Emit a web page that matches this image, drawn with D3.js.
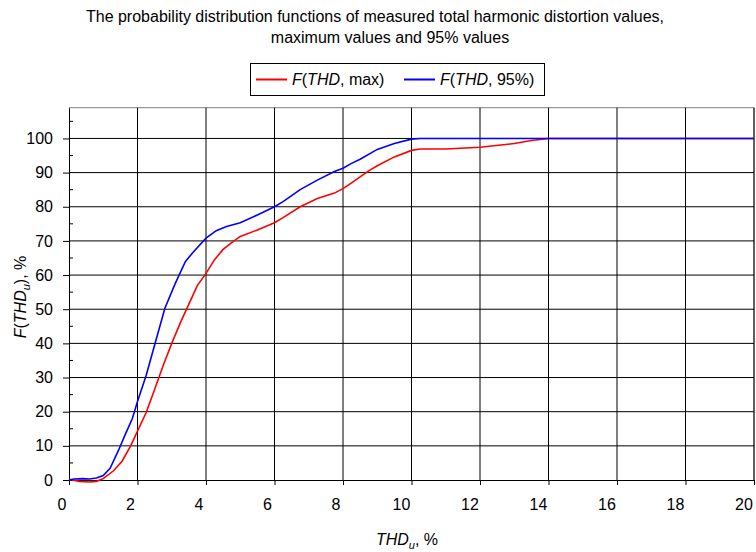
<!DOCTYPE html>
<html>
<head>
<meta charset="utf-8">
<script src="https://cdn.jsdelivr.net/npm/d3@7/dist/d3.min.js"></script>
<style>
  html, body { margin: 0; padding: 0; background: #fff; }
  svg { display: block; font-family: Arial, "Liberation Sans", sans-serif; }
</style>
</head>
<body>
<svg id="chart" width="756" height="552"></svg>
<script>
// ---- data ----
const titleLines = ["The probability distribution functions of measured total harmonic distortion values,",
                    "maximum values and 95% values"];
const xTicks = [0, 2, 4, 6, 8, 10, 12, 14, 16, 18, 20];
const yTicks = [0, 10, 20, 30, 40, 50, 60, 70, 80, 90, 100];
const yMinorTicks = [5, 15, 25, 35, 45, 55, 65, 75, 85, 95, 105];

const maxX = [0, 0.3, 0.6, 0.8, 1.0, 1.3, 1.55, 1.8, 2.0, 2.25, 2.5, 2.75, 3.0, 3.25, 3.5, 3.75, 4.0, 4.25, 4.5, 4.75, 5.0, 5.5, 6.0, 6.25, 6.75, 7.25, 7.75, 8.0, 8.25, 8.75, 9.0, 9.5, 10.0, 10.25, 11.0, 12.0, 13.0, 13.5, 14.0, 15, 16, 17, 18, 19, 20];
const maxY = [0.2, -0.4, -0.6, -0.4, 0.4, 2.7, 5.5, 10, 14.3, 19.7, 26.5, 33.5, 40, 46, 51.5, 57, 60.5, 64.5, 67.5, 69.5, 71.3, 73.2, 75.3, 76.8, 80, 82.4, 84, 85.3, 87, 90.5, 92, 94.6, 96.5, 96.9, 96.9, 97.4, 98.5, 99.4, 100, 100, 100, 100, 100, 100, 100];

const p95X = [0, 0.15, 0.4, 0.6, 0.8, 1.0, 1.2, 1.45, 1.65, 1.85, 2.0, 2.25, 2.5, 2.8, 3.1, 3.4, 3.65, 4.0, 4.3, 4.6, 5.0, 5.5, 6.0, 6.25, 6.75, 7.25, 7.75, 8.0, 8.25, 8.5, 9.0, 9.5, 10.0, 10.25, 11, 12, 13, 14, 15, 16, 17, 18, 19, 20];
const p95Y = [0, 0.3, 0.4, 0.3, 0.6, 1.3, 3.4, 8.8, 13.5, 18, 23, 30.5, 39.5, 50.3, 57.5, 64, 67, 70.8, 73, 74.2, 75.3, 77.6, 80, 81.5, 85, 87.8, 90.3, 91.3, 92.7, 93.9, 96.8, 98.5, 99.8, 100, 100, 100, 100, 100, 100, 100, 100, 100, 100, 100];

const seriesNames = ["max", "95%"];
const seriesColors = ["#ff0000", "#0000ff"];

// ---- layout ----
const svg = d3.select("#chart");
const pLeft = 69, pRight = 754, pTop = 107.7, pBottom = 480;
const x = d3.scaleLinear().domain([0, 20]).range([pLeft, pRight]);
const y = d3.scaleLinear().domain([0, 109]).range([pBottom, pTop]);

// title
svg.append("text").attr("x", 375).attr("y", 22).attr("text-anchor", "middle")
  .attr("font-size", 16).text(titleLines[0]);
svg.append("text").attr("x", 390).attr("y", 43).attr("text-anchor", "middle")
  .attr("font-size", 16).text(titleLines[1]);

// frame (top/right, grey)
svg.append("path").attr("d", `M${pLeft},${pTop}H${pRight}V${pBottom}`)
  .attr("fill", "none").attr("stroke", "#808080").attr("stroke-width", 1);

// grid
const g = svg.append("g");
g.selectAll("line.vg").data(xTicks.slice(1)).join("line")
  .attr("x1", d => x(d)).attr("x2", d => x(d)).attr("y1", pTop).attr("y2", pBottom)
  .attr("stroke", "#000").attr("stroke-width", 1);
g.selectAll("line.hg").data(yTicks.slice(1)).join("line")
  .attr("x1", pLeft).attr("x2", pRight).attr("y1", d => y(d)).attr("y2", d => y(d))
  .attr("stroke", "#000").attr("stroke-width", 1);

// x axis
const xAxis = d3.axisBottom(x).tickValues(xTicks).tickSize(5).tickSizeOuter(0).tickFormat(d3.format("d"));
const xg = svg.append("g").attr("transform", `translate(0,${pBottom})`).call(xAxis);
xg.select(".domain").attr("stroke", "#000");
xg.selectAll(".tick line").attr("stroke", "#000");
xg.selectAll(".tick text").attr("font-size", 16).attr("font-family", "Arial, 'Liberation Sans', sans-serif")
  .attr("fill", "#000").attr("y", 19).attr("dy", "0.71em")
  .attr("dx", d => String(d).length > 1 ? -10.5 : -7.5);

// y axis
const yAxis = d3.axisLeft(y).tickValues(yTicks).tickSize(6).tickSizeOuter(0).tickPadding(10).tickFormat(d3.format("d"));
const yg = svg.append("g").attr("transform", `translate(${pLeft},0)`).call(yAxis);
yg.select(".domain").attr("stroke", "#000");
yg.selectAll(".tick line").attr("stroke", "#000");
yg.selectAll(".tick text").attr("font-size", 16).attr("font-family", "Arial, 'Liberation Sans', sans-serif").attr("fill", "#000");
// minor ticks inside
svg.append("g").selectAll("line").data(yMinorTicks).join("line")
  .attr("x1", pLeft).attr("x2", pLeft + 4).attr("y1", d => y(d)).attr("y2", d => y(d))
  .attr("stroke", "#000");

// curves
const line = d3.line().x(d => x(d[0])).y(d => y(d[1]));
const series = [d3.zip(maxX, maxY), d3.zip(p95X, p95Y)];
svg.append("g").selectAll("path").data(series).join("path")
  .attr("d", line).attr("fill", "none")
  .attr("stroke", (d, i) => seriesColors[i]).attr("stroke-width", 1.6);

// legend
const lg = svg.append("g");
lg.append("rect").attr("x", 250.5).attr("y", 63.5).attr("width", 294).attr("height", 32)
  .attr("fill", "#fff").attr("stroke", "#000");
const legX = [256, 404];
seriesNames.forEach((nm, i) => {
  lg.append("line").attr("x1", legX[i]).attr("x2", legX[i] + 31).attr("y1", 79.5).attr("y2", 79.5)
    .attr("stroke", seriesColors[i]).attr("stroke-width", 2);
  const t = lg.append("text").attr("x", legX[i] + 36).attr("y", 85).attr("font-size", 16);
  t.append("tspan").attr("font-style", "italic").text("F");
  t.append("tspan").text("(");
  t.append("tspan").attr("font-style", "italic").text("THD");
  t.append("tspan").text(", " + nm + ")");
});

// axis titles
const xt = svg.append("text").attr("x", 407).attr("y", 545).attr("text-anchor", "middle").attr("font-size", 16);
xt.append("tspan").attr("font-style", "italic").text("THD");
xt.append("tspan").attr("font-style", "italic").attr("font-size", 11).attr("dy", 4).text("u");
xt.append("tspan").attr("dy", -4).text(", %");

const yt = svg.append("text").attr("transform", "translate(26,297) rotate(-90)")
  .attr("text-anchor", "middle").attr("font-size", 16);
yt.append("tspan").attr("font-style", "italic").text("F");
yt.append("tspan").text("(");
yt.append("tspan").attr("font-style", "italic").text("THD");
yt.append("tspan").attr("font-style", "italic").attr("font-size", 11).attr("dy", 4).text("u");
yt.append("tspan").attr("dy", -4).text("), %");
</script>
</body>
</html>
